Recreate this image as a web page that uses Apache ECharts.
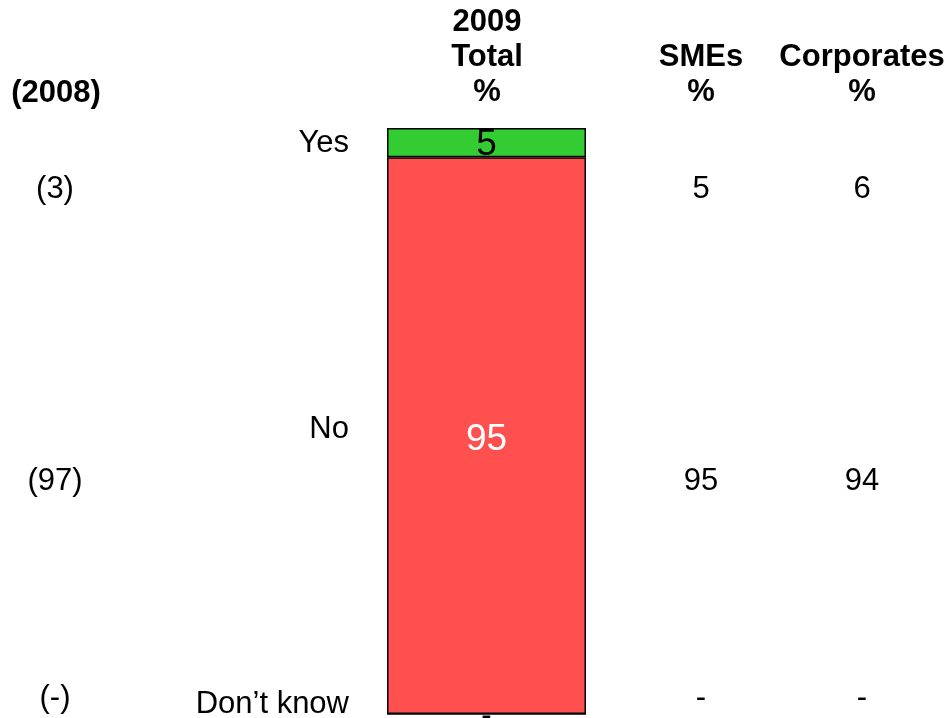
<!DOCTYPE html>
<html>
<head>
<meta charset="utf-8">
<script src="https://cdn.jsdelivr.net/npm/echarts@6/dist/echarts.min.js"></script>
<style>
  html, body { margin: 0; padding: 0; background: #fff; }
  #main { width: 949px; height: 718px; }
</style>
</head>
<body>
<div id="main"></div>
<script>
// data
const categories = ['Yes', 'No', 'Don\u2019t know'];
const total2009 = [5, 95, 0];
const prior2008 = ['(3)', '(97)', '(-)'];
const smes = ['5', '95', '-'];
const corporates = ['6', '94', '-'];
const barColors = ['#33cc33', '#ff5050', '#ff5050'];

const FONT = '"Liberation Sans", Arial, sans-serif';
const chart = echarts.init(document.getElementById('main'));

// rows layout (y centre of each row)
const rowY = [189, 481, 698];
const catY = [143, 429, 704];

function txt(str, x, y, opt) {
  opt = opt || {};
  return {
    type: 'text',
    x: x,
    y: y,
    style: {
      text: str,
      fill: '#000',
      font: (opt.bold ? 'bold ' : '') + (opt.size || 31) + 'px ' + FONT,
      align: opt.align || 'center',
      verticalAlign: 'middle'
    }
  };
}

let graphics = [];
// headers
graphics.push(txt('(2008)', 56, 93, { bold: true }));
graphics.push(txt('2009', 487, 22, { bold: true }));
graphics.push(txt('Total', 487, 57, { bold: true }));
graphics.push(txt('%', 487, 92, { bold: true }));
graphics.push(txt('SMEs', 701, 57, { bold: true }));
graphics.push(txt('%', 701, 92, { bold: true }));
graphics.push(txt('Corporates', 862, 57, { bold: true }));
graphics.push(txt('%', 862, 92, { bold: true }));

for (let i = 0; i < categories.length; i++) {
  graphics.push(txt(prior2008[i], 55, rowY[i]));
  graphics.push(txt(categories[i], 349, catY[i], { align: 'right' }));
  graphics.push(txt(smes[i], 701, rowY[i]));
  graphics.push(txt(corporates[i], 862, rowY[i]));
}

// stack from bottom: Don't know, No, Yes
const order = [2, 1, 0];
const offsets = [[0, 2], [0, 4], [0, 2]];
const series = order.map(function (i) {
  return {
    name: categories[i],
    type: 'bar',
    stack: 'total',
    barWidth: '100%',
    data: [total2009[i]],
    itemStyle: { color: barColors[i], borderColor: '#000', borderWidth: 1.5 },
    label: {
      show: true,
      position: 'inside',
      offset: offsets[i],
      fontFamily: FONT,
      fontSize: i === 2 ? 31 : 37,
      color: i === 1 ? '#fff' : '#000',
      formatter: function (p) { return p.value === 0 ? '-' : String(p.value); }
    }
  };
});

chart.setOption({
  animation: false,
  grid: { left: 387, width: 199, top: 128, bottom: 4 },
  xAxis: { type: 'category', data: ['2009 Total'], show: false },
  yAxis: { type: 'value', min: 0, max: 100, show: false },
  series: series,
  graphic: graphics
});
</script>
</body>
</html>
